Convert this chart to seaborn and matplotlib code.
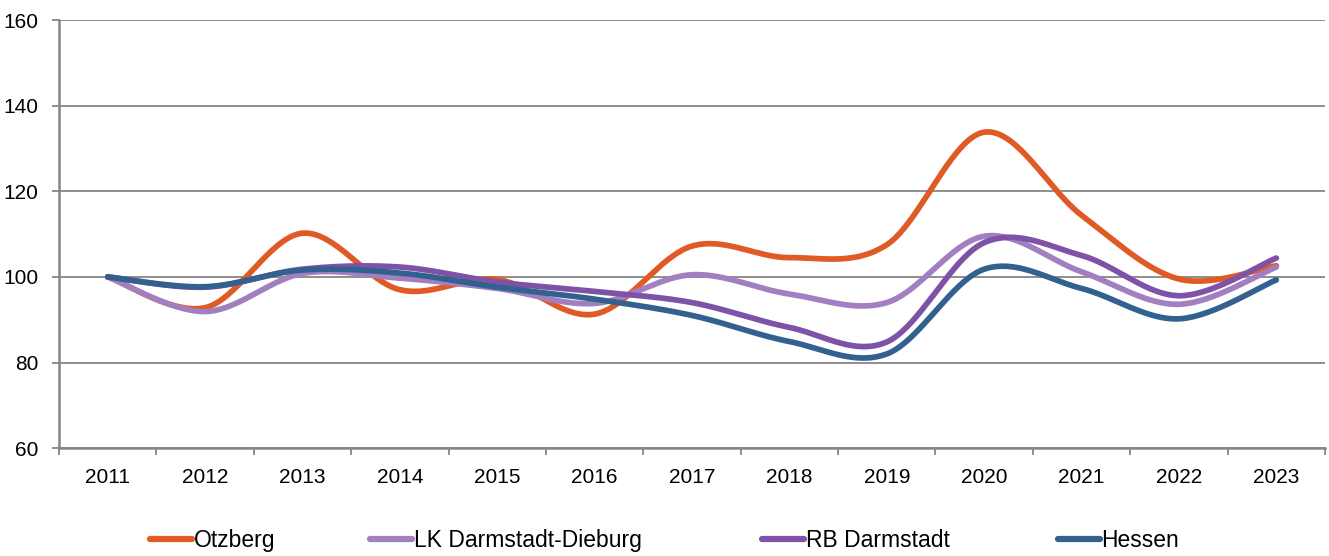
import numpy as np
import pandas as pd
import matplotlib
matplotlib.use('Agg')
import matplotlib.pyplot as plt
import seaborn as sns

# Index values (2011 = 100)
years = ['2011', '2012', '2013', '2014', '2015', '2016', '2017',
         '2018', '2019', '2020', '2021', '2022', '2023']
otzberg = [100, 92.8, 110.2, 97.0, 99.4, 91.3, 107.2, 104.5, 107.5, 133.8, 114.4, 99.5, 102.6]
lk_darmstadt_dieburg = [100, 91.9, 100.8, 99.7, 97.3, 93.8, 100.5, 96.0, 94.0, 109.5, 101.2, 93.6, 102.3]
rb_darmstadt = [100, 97.6, 101.8, 102.3, 98.8, 96.6, 94.0, 88.2, 84.8, 108.0, 105.0, 95.6, 104.4]
hessen = [100, 97.7, 101.6, 100.9, 97.6, 94.8, 91.0, 84.9, 82.0, 101.8, 97.3, 90.2, 99.3]

series = {
    'Otzberg': otzberg,
    'LK Darmstadt-Dieburg': lk_darmstadt_dieburg,
    'RB Darmstadt': rb_darmstadt,
    'Hessen': hessen,
}
colors = ['#E05A26', '#A27FC1', '#7D52A7', '#33618F']


def smooth(y, n=40):
    # Catmull-Rom style smoothing like the spreadsheet "smoothed line"
    y = np.asarray(y, dtype=float)
    x = np.arange(len(y), dtype=float)
    px = np.concatenate([[x[0]], x, [x[-1]]])
    py = np.concatenate([[y[0]], y, [y[-1]]])
    xs, ys = [], []
    t = np.linspace(0, 1, n)
    for i in range(len(y) - 1):
        p0 = np.array([px[i + 1], py[i + 1]])
        p3 = np.array([px[i + 2], py[i + 2]])
        b1 = p0 + (p3 - np.array([px[i], py[i]])) / 6
        b2 = p3 - (np.array([px[i + 3], py[i + 3]]) - p0) / 6
        pts = ((1 - t) ** 3)[:, None] * p0 + (3 * (1 - t) ** 2 * t)[:, None] * b1 \
            + (3 * (1 - t) * t ** 2)[:, None] * b2 + (t ** 3)[:, None] * p3
        xs.extend(pts[:, 0])
        ys.extend(pts[:, 1])
    return np.array(xs), np.array(ys)


sns.set_style('white')
plt.rcParams['font.family'] = ['Liberation Sans', 'DejaVu Sans']
plt.rcParams['text.color'] = 'black'

fig = plt.figure(figsize=(13.29, 5.56), dpi=100)
ax = fig.add_axes([0.0444, 0.194, 0.9526, 0.770])

for (name, vals), c in zip(series.items(), colors):
    sx, sy = smooth(vals)
    df = pd.DataFrame({'x': sx, 'y': sy})
    sns.lineplot(data=df, x='x', y='y', ax=ax, color=c, linewidth=4.1,
                 sort=False, estimator=None, label=name,
                 solid_capstyle='round')

grey = '#868686'
ax.set_xlim(-0.5, len(years) - 0.5)
ax.set_ylim(60, 160)
ax.set_yticks(range(60, 161, 20))
ax.set_xticks(range(len(years)))
ax.set_xticklabels(years)
ax.set_xticks(np.arange(-0.5, len(years), 1), minor=True)
ax.set_xlabel('')
ax.set_ylabel('')

ax.grid(axis='y', color=grey, linewidth=1.3)
ax.set_axisbelow(True)
for s in ['top', 'right']:
    ax.spines[s].set_visible(False)
for s in ['left', 'bottom']:
    ax.spines[s].set_color(grey)
    ax.spines[s].set_linewidth(1.8)

fs = 15
ax.tick_params(axis='y', which='major', length=5, width=1.3, color=grey,
               pad=10, labelsize=fs, labelcolor='black', left=True)
ax.tick_params(axis='x', which='major', length=0, pad=14, labelsize=fs,
               labelcolor='black')
ax.tick_params(axis='x', which='minor', length=5, width=1.3, color=grey,
               bottom=True)

# legend entries placed like the original, one per series
ax.get_legend().remove()
handles, labels = ax.get_legend_handles_labels()
starts = [150, 370, 762, 1058]
for h, lab, x0 in zip(handles, labels, starts):
    leg = fig.legend([h], [lab], loc='center left',
                     bbox_to_anchor=(x0 / 1329, 0.027), frameon=False,
                     fontsize=16.5, handlelength=1.85, handletextpad=0.05,
                     borderpad=0, borderaxespad=0)
    for line in leg.get_lines():
        line.set_linewidth(4.5)
        line.set_solid_capstyle('round')

fig.savefig('out.png', dpi=100)
